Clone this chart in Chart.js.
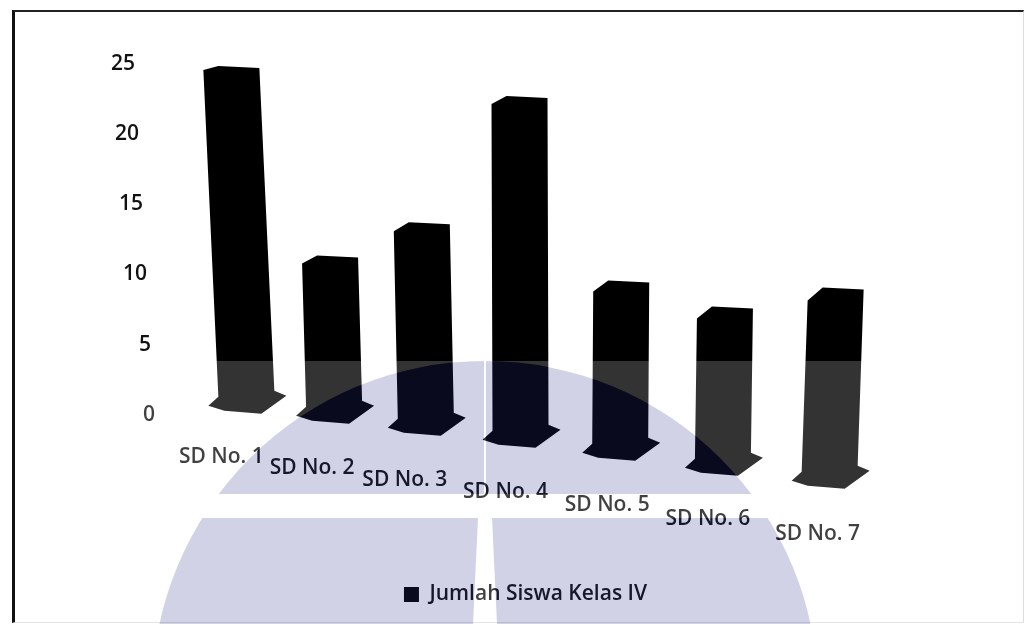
<!DOCTYPE html>
<html>
<head>
<meta charset="utf-8">
<title>Jumlah Siswa Kelas IV</title>
<script src="https://cdn.jsdelivr.net/npm/chart.js@4"></script>
<style>
  body { margin: 0; background: #fff; }
  #bingkai {
    position: absolute; left: 12px; top: 10px; width: 1008px; height: 610px;
    border-left: 3px solid #111; border-top: 2px solid #222;
    border-right: 1px solid #ddd; border-bottom: 1px solid #e4e4e4;
  }
  #grafik { position: absolute; left: 0; top: 0; }
</style>
</head>
<body>
<div id="bingkai"></div>
<canvas id="grafik" width="1025" height="627"></canvas>
<script>
const sekolah = ['SD No. 1', 'SD No. 2', 'SD No. 3', 'SD No. 4', 'SD No. 5', 'SD No. 6', 'SD No. 7'];
const jumlahSiswa = [24, 11, 14, 24, 12, 11, 13];
const tickY = [0, 5, 10, 15, 20, 25];

// Tampilan perspektif: kaki tiang turun ke depan, dalam satuan sumbu Y
const kakiTiang = [0.64, 0.14, -0.5, -1.5, -2.64, -3.5, -4.14];
const posisiLabel = [-3, -3.8, -4.64, -5.5, -6.43, -7.43, -8.5];
// Geseran mendatar (px) dari tengah kategori
const geserAtas = [-2, -2, -9, -10, -7, -2, 10];
const geserBawah = [13, 2, -5, -9, -8, -4, 4];
const geserLabel = [-12, -20, -26, -24, -21, -19, -8];
const turunSudut = [4, 8, 9, 8, 11, 12, 13];
const geserAlas = [-2, 1, 4, 2, -1, 2, 6];

const FONT_TEKS = '600 21px "Open Sans"';

function gambarTiang(ctx, el, i) {
  const h = 28;
  const xAtas = el.x + geserAtas[i];
  const xBawah = el.x + geserBawah[i];
  const yAlas = el.base + geserAlas[i];

  ctx.fillStyle = '#000';
  ctx.beginPath();
  ctx.moveTo(xAtas - h, el.y + turunSudut[i]);
  ctx.lineTo(xAtas - h + 15, el.y);
  ctx.lineTo(xAtas + h, el.y + 2);
  ctx.lineTo(xBawah + h, yAlas - 10);
  ctx.lineTo(xBawah + 40, yAlas - 5);
  ctx.lineTo(xBawah + 15, yAlas + 13);
  ctx.lineTo(xBawah - 22, yAlas + 10);
  ctx.lineTo(xBawah - 38, yAlas + 5);
  ctx.lineTo(xBawah - h, yAlas - 4);
  ctx.closePath();
  ctx.fill();
}

const tiang3D = {
  id: 'tiang3D',
  beforeDatasetDraw(chart, args) {
    const ctx = chart.ctx;
    args.meta.data.forEach((el, i) => gambarTiang(ctx, el, i));
    return false;
  }
};

const labelMiring = {
  id: 'labelMiring',
  afterDatasetsDraw(chart) {
    const { ctx, scales } = chart;
    ctx.save();
    ctx.font = FONT_TEKS;
    ctx.fillStyle = '#111';
    ctx.textBaseline = 'middle';

    // label sumbu Y bergeser ke kiri makin ke atas
    ctx.textAlign = 'right';
    scales.y.ticks.forEach(t => {
      ctx.fillText(String(t.value), 155 - t.value * 0.8, scales.y.getPixelForValue(t.value) + 3);
    });

    ctx.textAlign = 'center';
    sekolah.forEach((nama, i) => {
      ctx.fillText(nama, scales.x.getPixelForValue(i) + geserLabel[i], scales.y.getPixelForValue(posisiLabel[i]) + 3);
    });
    ctx.restore();
  }
};

// Cap logo di bagian bawah halaman
function bidangKubah(c, titik) {
  c.save();
  c.beginPath();
  c.arc(485, 694, 333, 0, Math.PI * 2);
  c.clip();
  c.beginPath();
  titik.forEach((p, i) => (i ? c.lineTo(p[0], p[1]) : c.moveTo(p[0], p[1])));
  c.closePath();
  c.clip();
  c.clearRect(0, 0, 1025, 627);
  c.fillStyle = 'rgba(46,46,139,0.216)';
  c.fillRect(0, 0, 1025, 627);
  c.restore();
}

const capLogo = {
  id: 'capLogo',
  afterDraw(chart) {
    const lapis = document.createElement('canvas');
    lapis.width = 1025;
    lapis.height = 627;
    const c = lapis.getContext('2d');
    c.fillStyle = 'rgba(255,255,255,0.2)';
    c.fillRect(16, 361, 1004, 261);
    bidangKubah(c, [[100, 355], [484, 355], [484, 494], [100, 494]]);
    bidangKubah(c, [[486, 355], [900, 355], [900, 494], [486, 494]]);
    bidangKubah(c, [[100, 518], [478, 518], [473, 624], [100, 624]]);
    bidangKubah(c, [[492, 518], [900, 518], [900, 624], [497, 624]]);
    chart.ctx.drawImage(lapis, 0, 0);
  }
};

new Chart(document.getElementById('grafik'), {
  type: 'bar',
  data: {
    labels: sekolah,
    datasets: [{
      label: 'Jumlah Siswa Kelas IV',
      data: jumlahSiswa.map((n, i) => [kakiTiang[i], kakiTiang[i] + n]),
      backgroundColor: '#000'
    }]
  },
  options: {
    responsive: false,
    animation: false,
    layout: { padding: { left: 176, right: 150, top: 33, bottom: 12 } },
    scales: {
      x: { grid: { display: false }, border: { display: false }, ticks: { display: false } },
      y: {
        min: -11,
        max: 27,
        grid: { display: false },
        border: { display: false },
        ticks: { display: false, stepSize: 5 },
        afterBuildTicks: axis => { axis.ticks = tickY.map(v => ({ value: v })); }
      }
    },
    plugins: {
      tooltip: { enabled: false },
      legend: {
        position: 'bottom',
        labels: {
          font: { family: '"Open Sans"', size: 21, weight: '600' },
          color: '#111',
          boxWidth: 15,
          boxHeight: 15,
          padding: 10
        }
      }
    }
  },
  plugins: [tiang3D, labelMiring, capLogo]
});
</script>
</body>
</html>
